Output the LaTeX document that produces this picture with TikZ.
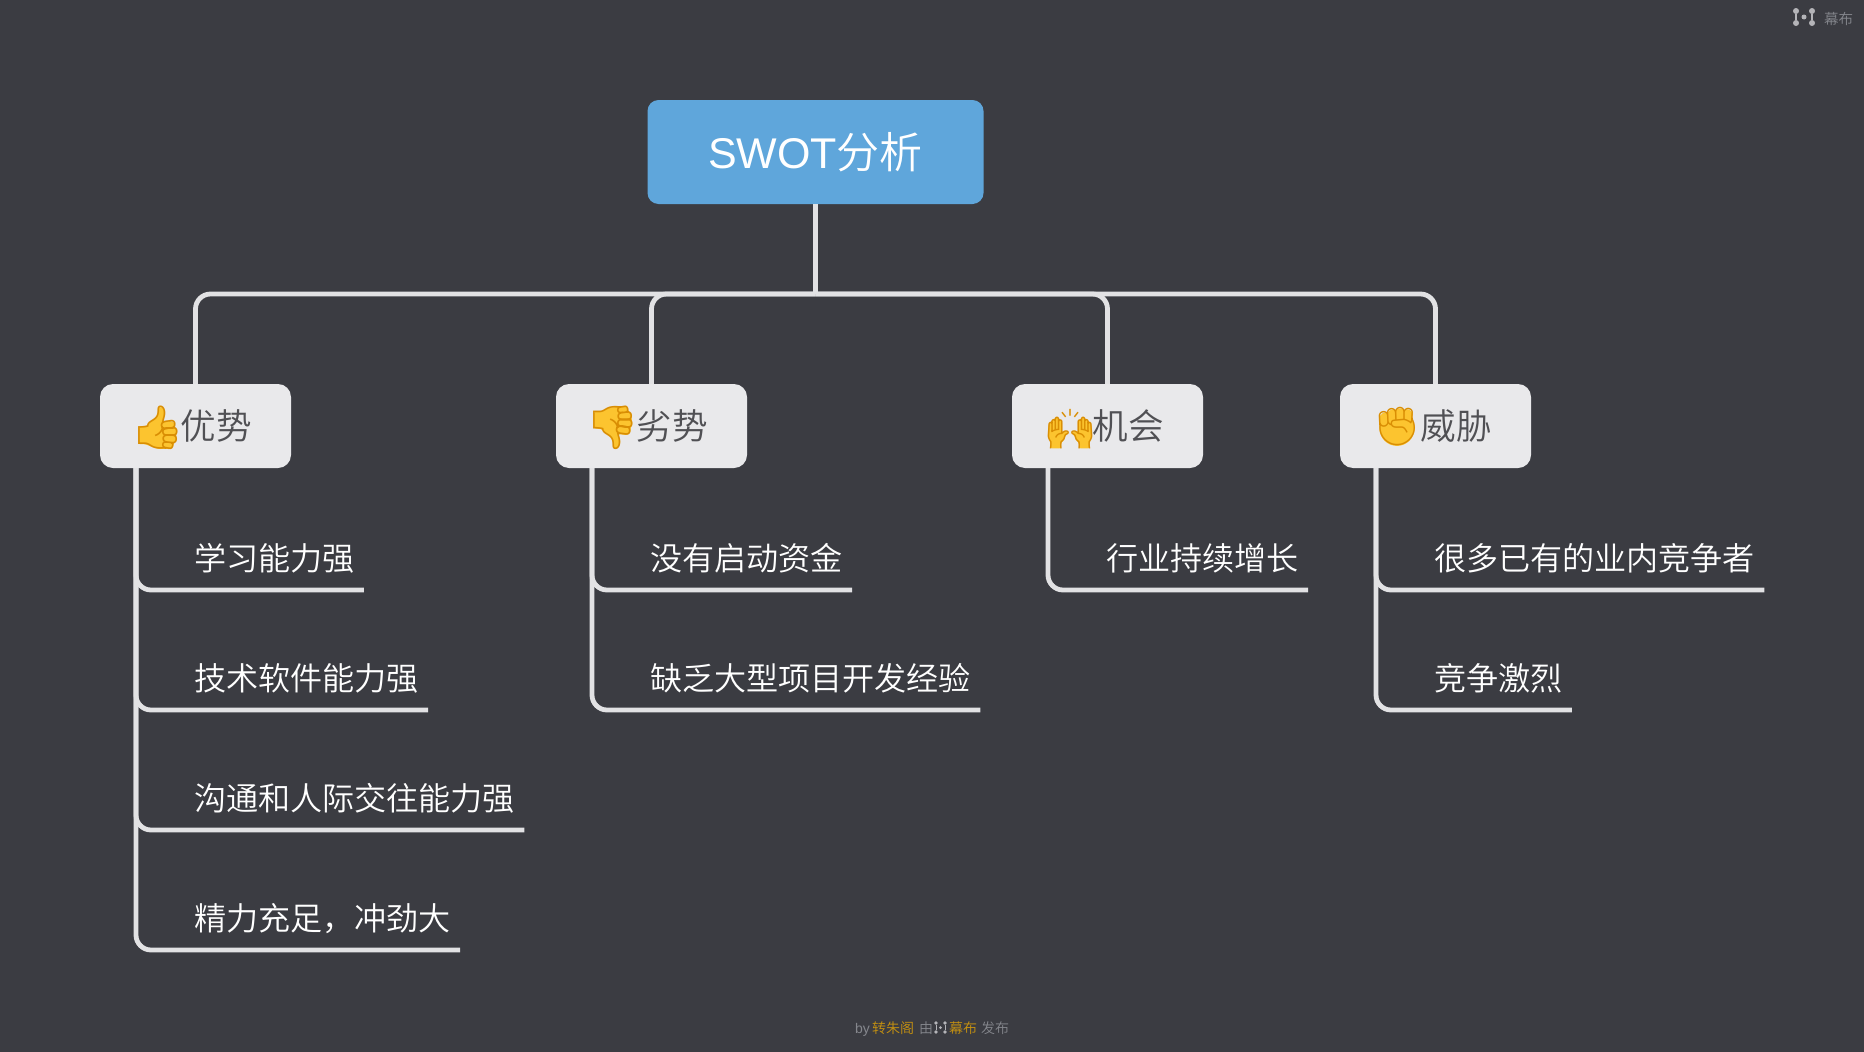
\documentclass[tikz,border=0pt]{standalone}
\usepackage{fontspec}
\setmainfont{Liberation Sans}
\newfontfamily\cjk{Noto Sans CJK SC DemiLight}
\newfontfamily\emoji{Noto Emoji}
\definecolor{bgc}{HTML}{3B3C42}
\definecolor{linec}{HTML}{E2E2E4}
\definecolor{rootc}{HTML}{5FA6DB}
\definecolor{childc}{HTML}{E9E9EB}
\definecolor{childt}{HTML}{505054}
\definecolor{greyt}{HTML}{85878D}
\definecolor{goldt}{HTML}{C8930F}
\definecolor{logoc}{HTML}{B4B4B8}
\definecolor{emy}{HTML}{FCC42F}
\definecolor{emo}{HTML}{D98E04}
\tikzset{
 conn/.style={draw=linec,line width=4.8pt,rounded corners=15pt},
 rootbox/.style={fill=rootc,rounded corners=11pt,minimum width=336pt,minimum height=104pt,inner sep=0pt,text=white,font=\fontsize{43}{43}\selectfont},
 childbox/.style={fill=childc,rounded corners=13pt,minimum width=191pt,minimum height=84pt,inner sep=0pt,text=childt,font=\cjk\fontsize{35.6}{36}\selectfont},
 leaf/.style={anchor=south west,inner xsep=9pt,inner ysep=0pt,text=white,text height=30pt,text depth=19pt,font=\cjk\fontsize{32.1}{32}\selectfont,execute at end node={\hspace*{.2pt}}},
 small/.style={anchor=base west,inner sep=0pt,font=\cjk\fontsize{14}{14}\selectfont},
 emoglyph/.style={inner sep=0pt,text=emo},
 logod/.style={fill=logoc,draw=none},
 blob/.style={fill=emy,rounded corners=1.5pt},
}
\begin{document}
\begin{tikzpicture}[x=1pt,y=-1pt]
\useasboundingbox (0,0) rectangle (1864,1052);
\fill[bgc] (0,0) rectangle (1864,1052);
\coordinate (bus) at (815.5,294);
\node[rootbox] (root) at (815.5,152) {SWOT{\cjk 分析}};
\node[childbox] (s) at (195.5,426) {\hspace*{42pt}优势};
\node[childbox] (w) at (651.5,426) {\hspace*{42pt}劣势};
\node[childbox] (o) at (1107.5,426) {\hspace*{42pt}机会};
\node[childbox] (t) at (1435.5,426) {\hspace*{42pt}威胁};
\draw[conn,line width=5.2pt] (root.south) -- (bus);
\draw[conn] (bus) -| (s.north);
\draw[conn] (bus) -| (w.north);
\draw[conn] (bus) -| (o.north);
\draw[conn] (bus) -| (t.north);
\coordinate (sb) at (136,468);
\coordinate (wb) at (592,468);
\coordinate (ob) at (1048,468);
\coordinate (tb) at (1376,468);
\node[leaf] (s1) at (184.8,590) {学习能力强};
\node[leaf] (s2) at (184.8,710) {技术软件能力强};
\node[leaf] (s3) at (184.8,830) {沟通和人际交往能力强};
\node[leaf] (s4) at (184.8,950) {精力充足，冲劲大};
\node[leaf] (w1) at (640.8,590) {没有启动资金};
\node[leaf] (w2) at (640.8,710) {缺乏大型项目开发经验};
\node[leaf] (o1) at (1096.8,590) {行业持续增长};
\node[leaf] (t1) at (1424.8,590) {很多已有的业内竞争者};
\node[leaf] (t2) at (1424.8,710) {竞争激烈};
\foreach \a/\b in {sb/s1,sb/s2,sb/s3,sb/s4,wb/w1,wb/w2,ob/o1,tb/t1,tb/t2}
  \draw[conn] (\a) |- (\b.south east);
% emoji: yellow fills under the real glyphs
\coordinate (ce1) at (158,428);
\coordinate (ce2) at (613,428);
\coordinate (ce3) at (1070,429);
\coordinate (ce4) at (1397,427);
\begin{scope}[shift={(ce1)},x=.1346pt,y=-.1346pt,shift={(-210,-210)}]
\fill[blob] (68,205)--(130,195)--(165,152)--(200,125)--(212,90)--(212,60)--(228,50)--(255,70)--(262,105)--(245,165)--(310,158)--(338,180)--(335,207)--(352,235)--(345,270)--(350,295)--(325,325)--(325,350)--(300,368)--(265,363)--(220,367)--(165,350)--(115,330)--(68,330)--cycle;
\end{scope}
\begin{scope}[shift={(ce2)},x=.1346pt,y=-.1346pt,shift={(-631,-210)}]
\fill[blob] (490,90)--(540,90)--(585,65)--(640,55)--(685,55)--(720,50)--(745,70)--(745,90)--(770,110)--(770,150)--(775,180)--(762,210)--(760,245)--(735,262)--(670,255)--(685,300)--(680,345)--(650,368)--(632,350)--(632,310)--(610,270)--(570,245)--(552,220)--(490,212)--cycle;
\end{scope}
\begin{scope}[shift={(ce3)},x=.122pt,y=-.122pt,shift={(-210,-631)}]
\fill[blob] (30,690)--(36,590)--(50,578)--(60,575)--(62,560)--(80,555)--(90,540)--(105,535)--(118,550)--(135,555)--(145,570)--(145,665)--(175,648)--(195,655)--(190,672)--(175,680)--(165,705)--(160,725)--(135,745)--(135,790)--(50,790)--(52,735)--(30,700)--cycle;
\fill[blob] (389,690)--(383,590)--(369,578)--(359,575)--(357,560)--(339,555)--(329,540)--(314,535)--(301,550)--(284,555)--(274,570)--(274,665)--(244,648)--(224,655)--(229,672)--(244,680)--(254,705)--(259,725)--(284,745)--(284,790)--(369,790)--(367,735)--(389,700)--cycle;
\end{scope}
\begin{scope}[shift={(ce4)},x=.1189pt,y=-.1189pt,shift={(-631,-631)}]
\fill[emy] (631,643) circle[radius=147];
\fill[blob] (480,545)--(520,505)--(548,515)--(585,480)--(618,492)--(655,470)--(692,492)--(725,478)--(762,510)--(760,570)--(485,620)--cycle;
\end{scope}
\node[emoglyph,font=\emoji\fontsize{43}{43}\selectfont] (e1) at (ce1) {\char"1F44D};
\node[emoglyph,font=\emoji\fontsize{43}{43}\selectfont] (e2) at (ce2) {\char"1F44E};
\node[emoglyph,font=\emoji\fontsize{39}{39}\selectfont] (e3) at (ce3) {\char"1F64C};
\node[emoglyph,font=\emoji\fontsize{38}{38}\selectfont] (e4) at (ce4) {\char"270A};
% top-right logo
\foreach \c/\x/\y in {a/1796/11,b/1812/11,c/1796/23,d/1812/23}
  \node[circle,logod,minimum size=6pt,inner sep=0pt] (l\c) at (\x,\y) {};
\node[circle,logod,minimum size=5pt,inner sep=0pt] (lm) at (1804,17) {};
\draw[logoc,line width=1.5pt] (la)--(lc) (lb)--(ld);
\node[small,text=greyt,font=\cjk\fontsize{14.5}{15}\selectfont] (tr) at (1824,24) {幕布};
% footer
\node[small,text=greyt,font=\fontsize{14}{14}\selectfont] (f1) at (855,1033) {by};
\node[small,text=goldt] (f2) at (872,1033) {转朱阁};
\node[small,text=greyt] (f3) at (919,1033) {由};
\foreach \c/\x/\y in {a/936/1023,b/945/1023,c/936/1032,d/945/1032}
  \node[circle,logod,minimum size=3.6pt,inner sep=0pt] (m\c) at (\x,\y) {};
\node[circle,logod,minimum size=3pt,inner sep=0pt] (mm) at (940.5,1027.5) {};
\draw[logoc,line width=1pt] (ma)--(mc) (mb)--(md);
\node[small,text=goldt] (f4) at (949,1033) {幕布};
\node[small,text=greyt] (f5) at (981,1033) {发布};
\end{tikzpicture}
\end{document}
